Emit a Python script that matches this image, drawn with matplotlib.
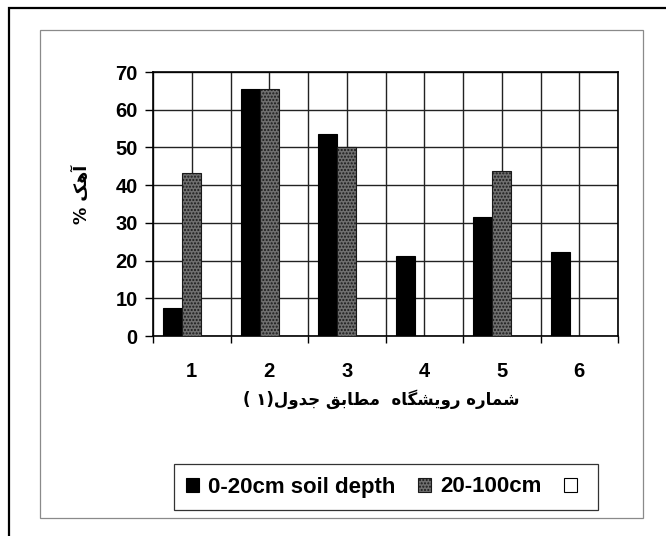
import matplotlib
matplotlib.use("Agg")
import matplotlib.pyplot as plt
from matplotlib.patches import Rectangle
import numpy as np

# ---- data ----
sites = ["1", "2", "3", "4", "5", "6"]
depth_0_20 = [7.4, 65.4, 53.6, 21.2, 31.5, 22.2]
depth_20_100 = [43.2, 65.4, 50.0, 0.0, 43.8, 0.0]
third_series = [0, 0, 0, 0, 0, 0]
series_labels = ["0-20cm soil depth", "20-100cm", ""]
y_label = "آهک %"
x_label = "شماره رویشگاه  مطابق جدول(۱ )"

# ---- minimal Persian shaping (presentation forms) + right-to-left display order ----
FORMS = {
    "ا": ("\uFE8D", "\uFE8E", None, None),
    "آ": ("\uFE81", "\uFE82", None, None),
    "ب": ("\uFE8F", "\uFE90", "\uFE91", "\uFE92"),
    "ج": ("\uFE9D", "\uFE9E", "\uFE9F", "\uFEA0"),
    "د": ("\uFEA9", "\uFEAA", None, None),
    "ر": ("\uFEAD", "\uFEAE", None, None),
    "ش": ("\uFEB5", "\uFEB6", "\uFEB7", "\uFEB8"),
    "ط": ("\uFEC1", "\uFEC2", "\uFEC3", "\uFEC4"),
    "ق": ("\uFED5", "\uFED6", "\uFED7", "\uFED8"),
    "ل": ("\uFEDD", "\uFEDE", "\uFEDF", "\uFEE0"),
    "م": ("\uFEE1", "\uFEE2", "\uFEE3", "\uFEE4"),
    "ه": ("\uFEE9", "\uFEEA", "\uFEEB", "\uFEEC"),
    "و": ("\uFEED", "\uFEEE", None, None),
    "ک": ("\uFB8E", "\uFB8F", "\uFB90", "\uFB91"),
    "گ": ("\uFB92", "\uFB93", "\uFB94", "\uFB95"),
    "ی": ("\uFBFC", "\uFBFD", "\uFBFE", "\uFBFF"),
}
MIRROR = {"(": ")", ")": "("}


def joins_left(c):
    return c in FORMS and FORMS[c][2] is not None


def rtl(text):
    out = []
    for i, c in enumerate(text):
        if c not in FORMS:
            out.append(MIRROR.get(c, c))
            continue
        prev_j = i > 0 and joins_left(text[i - 1])
        next_j = i + 1 < len(text) and text[i + 1] in FORMS and joins_left(c)
        iso, fin, ini, med = FORMS[c]
        if prev_j and next_j:
            out.append(med)
        elif prev_j:
            out.append(fin)
        elif next_j:
            out.append(ini)
        else:
            out.append(iso)
    return "".join(reversed(out))


plt.rcParams["font.family"] = ["Liberation Sans", "DejaVu Sans"]
plt.rcParams["font.weight"] = "bold"

W, H = 666, 536
fig = plt.figure(figsize=(W / 100, H / 100), dpi=100)

# outer and inner frames
fig.patches.append(Rectangle((9 / W, -0.05), 1.1, 1 - 8 / H + 0.05, transform=fig.transFigure,
                             fill=False, edgecolor="black", linewidth=1.6))
fig.patches.append(Rectangle((40 / W, 1 - 518 / H), (643 - 40) / W, (518 - 30) / H,
                             transform=fig.transFigure, fill=False, edgecolor="#8a8a8a",
                             linewidth=0.9))

ax = fig.add_axes([153 / W, 1 - 336 / H, (618 - 153) / W, (336 - 72) / H])
x = np.arange(1, len(sites) + 1)
bw = 0.245
b1 = ax.bar(x - bw, depth_0_20, bw, color="black", edgecolor="black", linewidth=0.8, zorder=3)
b2 = ax.bar(x, depth_20_100, bw, color="#6f6f6f", edgecolor="#1a1a1a", hatch=".....",
            linewidth=0.8, zorder=3)
b3 = ax.bar(x + bw, third_series, bw, color="white", edgecolor="black", linewidth=0.8, zorder=3)

ax.set_xlim(0.5, len(sites) + 0.5)
ax.set_ylim(0, 70)
ax.set_yticks(np.arange(0, 71, 10))
ax.set_xticks(x)
ax.set_xticklabels(sites)
ax.set_xticks(np.arange(0.5, len(sites) + 1, 1.0), minor=True)

ax.grid(True, which="both", axis="x", color="#222222", linewidth=1.0, zorder=0)
ax.grid(True, which="major", axis="y", color="#222222", linewidth=1.0, zorder=0)
ax.set_axisbelow(True)
for s in ax.spines.values():
    s.set_color("black")
    s.set_linewidth(1.2)

ax.tick_params(axis="y", direction="out", length=6, width=1, pad=5, labelsize=14.5)
ax.tick_params(axis="x", which="major", length=0, pad=19, labelsize=14.5)
ax.tick_params(axis="x", which="minor", direction="out", length=5, width=1)

fig.text(381 / W, 1 - 399 / H, rtl(x_label), ha="center", va="center", fontsize=12,
         family=["DejaVu Sans"], fontweight="bold")
fig.text(82 / W, 1 - 194 / H, rtl(y_label), ha="center", va="center", fontsize=12.5,
         rotation=90, family=["DejaVu Sans"], fontweight="bold")

leg = fig.legend([b1, b2, b3], series_labels, ncol=3, loc="center",
                 bbox_to_anchor=(386 / W, 1 - 487 / H), frameon=True, fancybox=False,
                 edgecolor="black", fontsize=16, handlelength=0.6, handleheight=0.6,
                 handletextpad=0.4, columnspacing=1.0, borderpad=0.55)
leg.get_frame().set_linewidth(0.9)

fig.savefig("out.png", dpi=100)
